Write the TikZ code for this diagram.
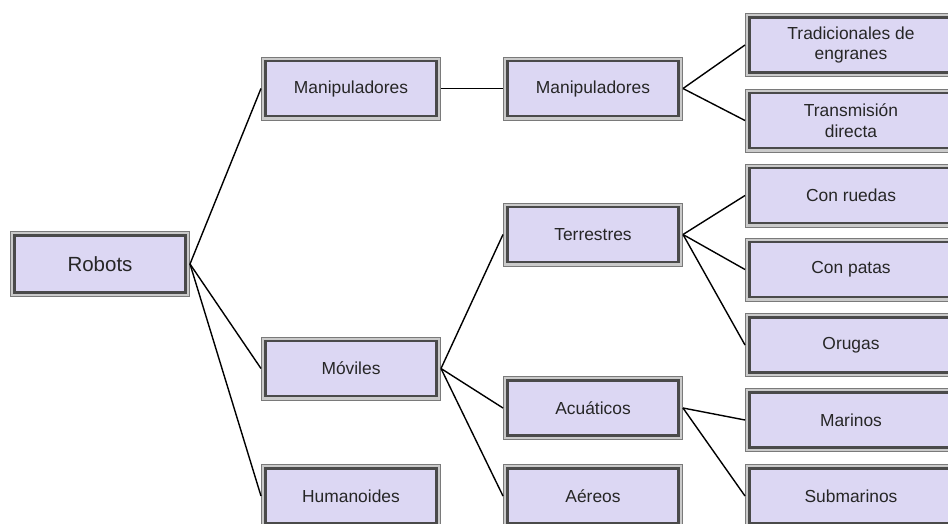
\documentclass[tikz,border=0pt]{standalone}
\usepackage{fontspec}
\setmainfont{Liberation Sans}
\definecolor{boxfill}{HTML}{DCD7F3}
\definecolor{bandlight}{HTML}{CACACA}
\definecolor{bandouter}{HTML}{7A7A7A}
\definecolor{bandinner}{HTML}{4A4A4A}
\definecolor{txt}{HTML}{262626}
\begin{document}
\begin{tikzpicture}[x=1pt,y=-1pt,
  fbox/.style={rectangle, inner sep=0pt, outer sep=4.5pt,
    minimum width=171pt, minimum height=55pt, align=center,
    text=txt, font=\fontsize{17.4}{20.5}\selectfont,
    preaction={draw=bandouter, line width=9pt},
    preaction={draw=bandlight, line width=7pt},
    fill=boxfill, draw=bandinner, line width=2.5pt},
  wbox/.style={fbox, minimum width=203pt},
  conn/.style={draw=black, line width=1.4pt}]
\useasboundingbox (0,0) rectangle (948,523);
\clip (0,0) rectangle (948,523);
% level 0
\node[fbox, minimum height=57pt, font=\fontsize{20.5}{24}\selectfont] (robots) at (100,264) {Robots};
% level 1
\node[fbox] (m1) at (351,88.5) {Manipuladores};
\node[fbox] (mov) at (351,368.5) {Móviles};
\node[fbox] (hum) at (351,496) {Humanoides};
% level 2
\node[fbox] (m2) at (593,88.5) {Manipuladores};
\node[fbox] (ter) at (593,234.5) {Terrestres};
\node[fbox] (acu) at (593,408) {Acuáticos};
\node[fbox] (aer) at (593,496) {Aéreos};
% level 3
\node[wbox] (tra) at (851,45) {Tradicionales de\\engranes};
\node[wbox] (trn) at (851,120.5) {Transmisión\\directa};
\node[wbox] (cr) at (851,195.5) {Con ruedas};
\node[wbox] (cp) at (851,269.5) {Con patas};
\node[wbox] (oru) at (851,345) {Orugas};
\node[wbox] (mar) at (851,420) {Marinos};
\node[wbox] (sub) at (851,496) {Submarinos};
% connectors
\draw[conn] (robots.east) -- (m1.west);
\draw[conn] (robots.east) -- (mov.west);
\draw[conn] (robots.east) -- (hum.west);
\draw[conn] (m1.east) -- (m2.west);
\draw[conn] (mov.east) -- (ter.west);
\draw[conn] (mov.east) -- (acu.west);
\draw[conn] (mov.east) -- (aer.west);
\draw[conn] (m2.east) -- (tra.west);
\draw[conn] (m2.east) -- (trn.west);
\draw[conn] (ter.east) -- (cr.west);
\draw[conn] (ter.east) -- (cp.west);
\draw[conn] (ter.east) -- (oru.west);
\draw[conn] (acu.east) -- (mar.west);
\draw[conn] (acu.east) -- (sub.west);
\end{tikzpicture}
\end{document}
